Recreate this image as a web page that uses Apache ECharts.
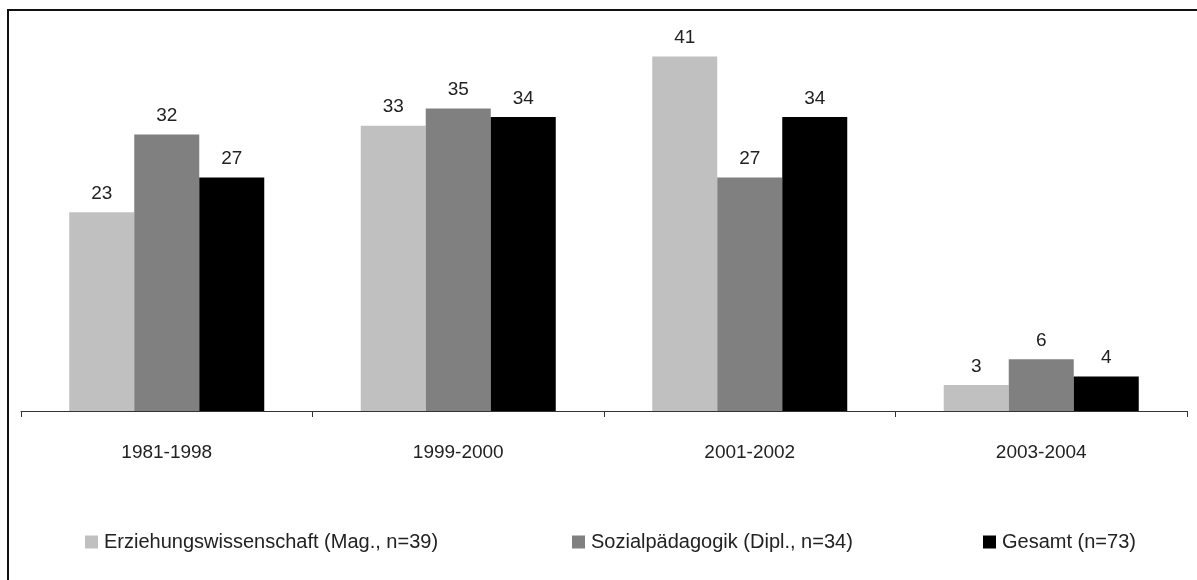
<!DOCTYPE html>
<html>
<head>
<meta charset="utf-8">
<script src="https://cdn.jsdelivr.net/npm/echarts@6/dist/echarts.min.js"></script>
<style>
  html, body { margin: 0; padding: 0; background: #fff; }
  #chart { width: 1197px; height: 580px; }
</style>
</head>
<body>
<div id="chart"></div>
<script>
// Zeiträume (Kategorien) und Anteile in Prozent je Studiengang
const categories = ['1981-1998', '1999-2000', '2001-2002', '2003-2004'];
const erziehungswissenschaft = [23, 33, 41, 3];
const sozialpaedagogik = [32, 35, 27, 6];
const gesamt = [27, 34, 34, 4];
const seriesNames = [
  'Erziehungswissenschaft (Mag., n=39)',
  'Sozialpädagogik (Dipl., n=34)',
  'Gesamt (n=73)'
];
const colors = ['#c0c0c0', '#808080', '#000000'];

const FONT = 'Liberation Sans, Arial, sans-serif';
const chart = echarts.init(document.getElementById('chart'));

function barSeries(name, data, color) {
  return {
    name: name,
    type: 'bar',
    data: data,
    barWidth: 65,
    barGap: '0%',
    itemStyle: { color: color },
    label: {
      show: true,
      position: 'top',
      distance: 9,
      color: '#222',
      fontFamily: FONT,
      fontSize: 19
    }
  };
}

function legendAt(left, name) {
  return {
    left: left,
    top: 527,
    data: [name],
    icon: 'rect',
    itemWidth: 13,
    itemHeight: 13,
    selectedMode: false,
    textStyle: { color: '#222', fontFamily: FONT, fontSize: 20, padding: [0, 0, 0, 1] }
  };
}

chart.setOption({
  animation: false,
  color: colors,
  grid: { left: 21, right: 10, top: 22, bottom: 169, containLabel: false },
  graphic: [{
    type: 'rect',
    shape: { x: 8, y: 10, width: 1200, height: 600 },
    style: { fill: 'none', stroke: '#111', lineWidth: 2 },
    silent: true
  }],
  legend: [
    legendAt(80, seriesNames[0]),
    legendAt(567, seriesNames[1]),
    legendAt(978, seriesNames[2])
  ],
  xAxis: {
    type: 'category',
    data: categories,
    axisLine: { lineStyle: { color: '#333', width: 1 } },
    axisTick: { show: true, length: 6, lineStyle: { color: '#333' } },
    axisLabel: { color: '#222', fontFamily: FONT, fontSize: 19, margin: 32 }
  },
  yAxis: {
    type: 'value',
    min: 0,
    max: 45,
    show: false,
    splitLine: { show: false }
  },
  series: [
    barSeries(seriesNames[0], erziehungswissenschaft, colors[0]),
    barSeries(seriesNames[1], sozialpaedagogik, colors[1]),
    barSeries(seriesNames[2], gesamt, colors[2])
  ]
});
</script>
</body>
</html>
